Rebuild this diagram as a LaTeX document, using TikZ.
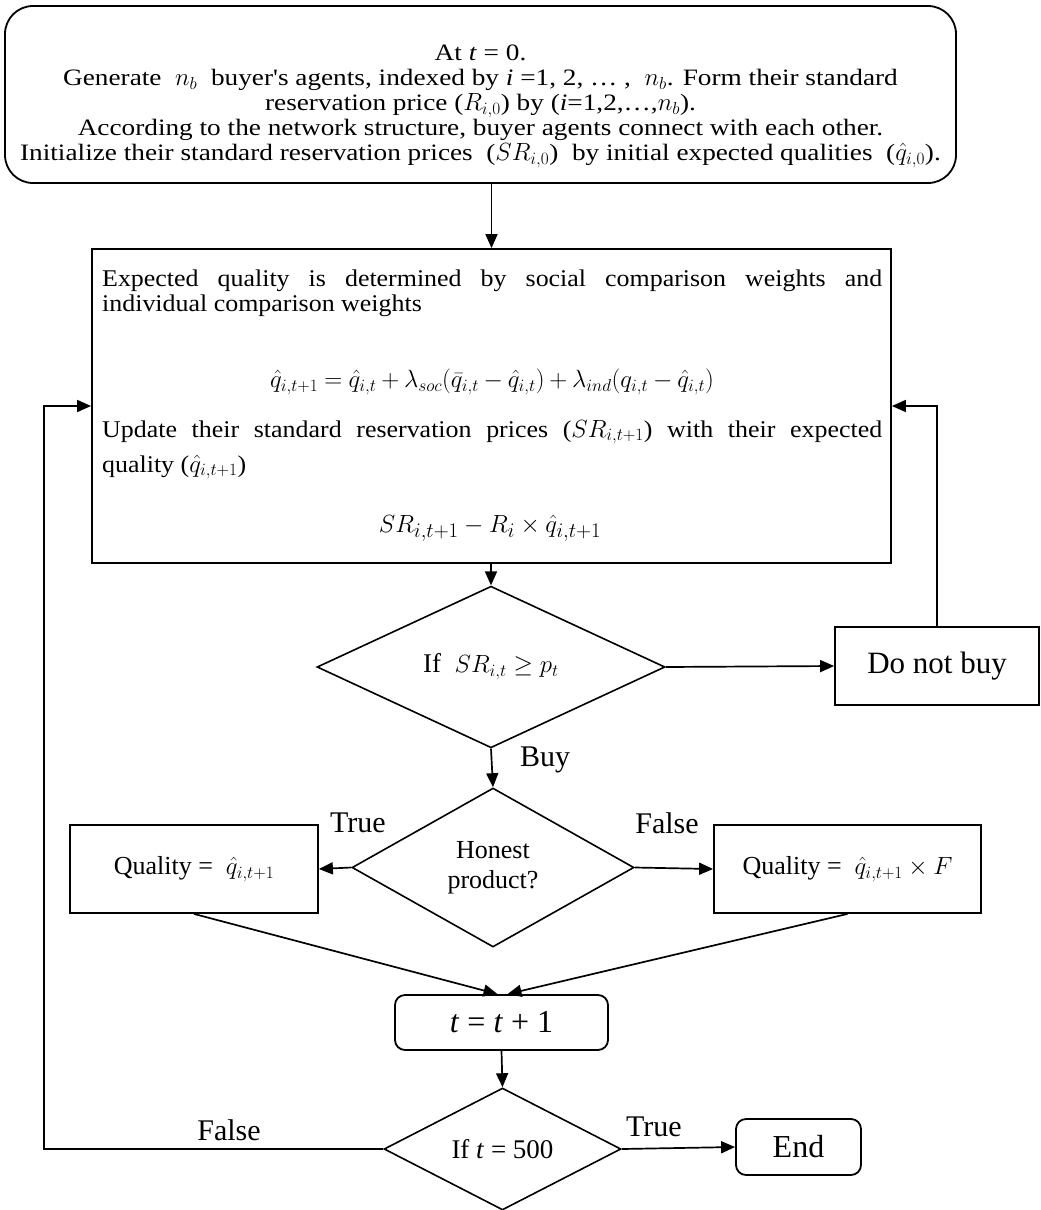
\documentclass[tikz,border=0pt]{standalone}
\usepackage{fontspec}
\setmainfont{Liberation Serif}
\newfontfamily\topfont[FakeStretch=1.16]{Liberation Serif}
\newfontfamily\midfont[FakeStretch=1.08]{Liberation Serif}
\usepackage{amsmath}
\usetikzlibrary{shapes.geometric,arrows.meta}
\newcommand{\fsz}[2]{\fontsize{#1}{#2}\selectfont}
\begin{document}
\begin{tikzpicture}[x=1pt,y=-1pt,
  box/.style={draw, line width=1.8pt, inner sep=0pt},
  dia/.style={draw, diamond, line width=1.6pt, inner sep=0pt},
  arr/.style={line width=1.7pt, -{Triangle[length=14pt,width=12pt]}},
  lbl/.style={font=\fsz{30}{32}},
  txt/.style={inner sep=0pt, anchor=base west, font=\midfont\fsz{24}{26}},
]
\useasboundingbox (0,0) rectangle (1041,1210);

% top box
\node[box, rounded corners=28pt, minimum width=951pt, minimum height=177pt] (top) at (480.5,94.5) {};
\node[align=center, inner sep=0pt, font=\topfont\fsz{23.5}{25}] (toptxt) at (480.5,106) {%
At \textit{t} = 0.\\
Generate~ $n_b$ ~buyer's agents, indexed by \textit{i} =1, 2, \dots~, ~$n_b$. Form their standard\\
reservation price ($R_{i,0}$) by (\textit{i}=1,2,\dots,$n_b$).\\
According to the network structure, buyer agents connect with each other.\\
Initialize their standard reservation prices~ ($SR_{i,0}$) ~by initial expected qualities~ ($\hat{q}_{i,0}$).};

% update box
\node[box, minimum width=799pt, minimum height=314pt] (upd) at (491.5,406) {};
\node[txt] (l1) at (102,286) {\makebox[780pt][s]{Expected quality is determined by social comparison weights and}};
\node[txt] (l2) at (102,311) {individual comparison weights};
\node[inner sep=0pt, font=\fsz{23}{25}] (eq1) at (492,382) {\medmuskip=3.5mu\thickmuskip=4.5mu$\hat{q}_{i,t+1} = \hat{q}_{i,t} + \lambda_{soc}(\bar{q}_{i,t} - \hat{q}_{i,t}) + \lambda_{ind}(q_{i,t} - \hat{q}_{i,t})$};
\node[txt] (l3) at (102,437) {\makebox[780pt][s]{Update their standard reservation prices ($SR_{i,t+1}$) with their expected}};
\node[txt] (l4) at (102,472) {quality ($\hat{q}_{i,t+1}$)};
\node[inner sep=0pt, font=\fsz{29}{31}] (eq2) at (490,528) {$SR_{i,t+1} - R_i \times \hat{q}_{i,t+1}$};

% decision 1
\node[dia, minimum width=348pt, minimum height=136pt, font=\fsz{27}{29}] (d1) at (491,667) {If~ $SR_{i,t} \geq p_t$};
\node[box, minimum width=204pt, minimum height=78pt, font=\fsz{31}{33}] (nb) at (937,666) {Do not buy};

% decision 2
\node[dia, minimum width=282pt, minimum height=159pt, align=center, font=\fsz{26}{30}] (d2) at (493,867.5) {Honest\\product?};
\node[box, minimum width=248pt, minimum height=88pt, font=\fsz{26}{28}] (qL) at (194,869) {Quality = ~$\hat{q}_{i,t+1}$};
\node[box, minimum width=267pt, minimum height=88pt, font=\fsz{26}{28}] (qR) at (847.5,869) {Quality = ~$\hat{q}_{i,t+1} \times F$};

% t = t+1
\node[box, rounded corners=10pt, minimum width=213pt, minimum height=55pt, font=\fsz{32}{34}] (tb) at (501.5,1022.5) {\textit{t} = \textit{t} + 1};

% decision 3
\node[dia, minimum width=237pt, minimum height=122pt, font=\fsz{27}{29}] (d3) at (502.5,1149) {If \textit{t} = 500};
\node[box, rounded corners=10pt, minimum width=125pt, minimum height=56pt, font=\fsz{32}{34}] (end) at (798.5,1147) {End};

\coordinate (lcol) at (44,0);

% connectors
\draw[arr] (upd.north |- top.south) -- (upd.north);
\draw[arr] (upd.south -| d1.north) -- (d1.north);
\draw[arr] (d1.east) -- (nb.west);
\draw[arr] (nb.north) |- (upd.east);
\draw[arr] (d1.south) -- (d2.north);
\draw[arr] (d2.west) -- (qL.east);
\draw[arr] (d2.east) -- (qR.west);
\draw[arr] (qL.south) -- ([xshift=-4pt]tb.north);
\draw[arr] (qR.south) -- ([xshift=6pt]tb.north);
\draw[arr] (tb.south) -- (d3.north);
\draw[arr] (d3.east) -- (end.west);
\draw[arr] (d3.west) -- (d3.west -| lcol) |- (upd.west);

% labels
\node[lbl] (lbuy) at (545,760) {Buy};
\node[lbl] (ltrue1) at (358,823) {True};
\node[lbl] (lfalse1) at (667,823) {False};
\node[lbl] (lfalse2) at (229,1130) {False};
\node[lbl] (ltrue2) at (654,1127) {True};
\end{tikzpicture}
\end{document}
